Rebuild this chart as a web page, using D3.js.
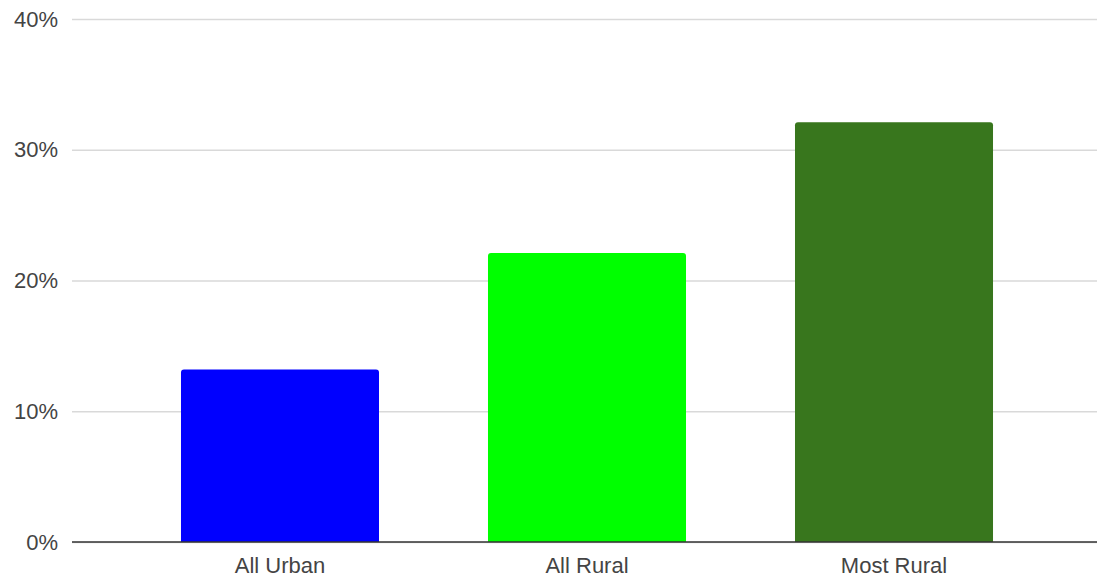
<!DOCTYPE html>
<html>
<head>
<meta charset="utf-8">
<script src="https://cdn.jsdelivr.net/npm/d3@7"></script>
<style>
  html, body { margin: 0; padding: 0; background: #fff; }
  svg { display: block; font-family: "Liberation Sans", Arial, sans-serif; }
</style>
</head>
<body>
<svg id="chart" width="1097" height="582"></svg>
<script>
// Share of population by area type
const categories = ["All Urban", "All Rural", "Most Rural"];
const values = [0.132, 0.221, 0.321];
const barColors = ["#0000ff", "#00ff00", "#38761d"];
const yTicks = [0, 0.1, 0.2, 0.3, 0.4];

const svg = d3.select("#chart");
const plotLeft = 72, plotRight = 1102, plotTop = 19, plotBottom = 542;

const x = d3.scaleBand()
  .domain(categories)
  .range([plotLeft, plotRight])
  .padding(0.355);

const y = d3.scaleLinear()
  .domain([0, 0.4])
  .range([plotBottom, plotTop]);

const fmt = d3.format(".0%");

// horizontal gridlines with percentage labels
const yAxis = svg.append("g")
  .attr("transform", `translate(${plotLeft},0)`)
  .call(d3.axisLeft(y).tickValues(yTicks).tickFormat(fmt)
    .tickSize(-(plotRight - plotLeft)).tickPadding(14));
yAxis.select(".domain").remove();
yAxis.selectAll(".tick line")
  .attr("stroke", "#d9d9d9")
  .attr("stroke-width", 1.5);
yAxis.selectAll(".tick text")
  .attr("fill", "#444")
  .attr("font-size", 22)
  .attr("font-family", "Liberation Sans, Arial, sans-serif");

// bars with slightly rounded top corners
const r = 3;
svg.append("g")
  .selectAll("path")
  .data(categories)
  .join("path")
  .attr("fill", (d, i) => barColors[i])
  .attr("d", (d, i) => {
    const x0 = x(d), w = x.bandwidth();
    const y0 = y(values[i]), y1 = y(0);
    return `M${x0},${y1}V${y0 + r}Q${x0},${y0} ${x0 + r},${y0}` +
           `H${x0 + w - r}Q${x0 + w},${y0} ${x0 + w},${y0 + r}V${y1}Z`;
  });

// baseline and category labels
const xAxis = svg.append("g")
  .attr("transform", `translate(0,${plotBottom})`)
  .call(d3.axisBottom(x).tickSize(0).tickPadding(15));
xAxis.select(".domain").remove();
svg.append("line")
  .attr("x1", plotLeft).attr("x2", plotRight)
  .attr("y1", plotBottom).attr("y2", plotBottom)
  .attr("stroke", "#333")
  .attr("stroke-width", 1.5);
xAxis.selectAll(".tick text")
  .attr("fill", "#444")
  .attr("font-size", 22)
  .attr("font-family", "Liberation Sans, Arial, sans-serif");
</script>
</body>
</html>
